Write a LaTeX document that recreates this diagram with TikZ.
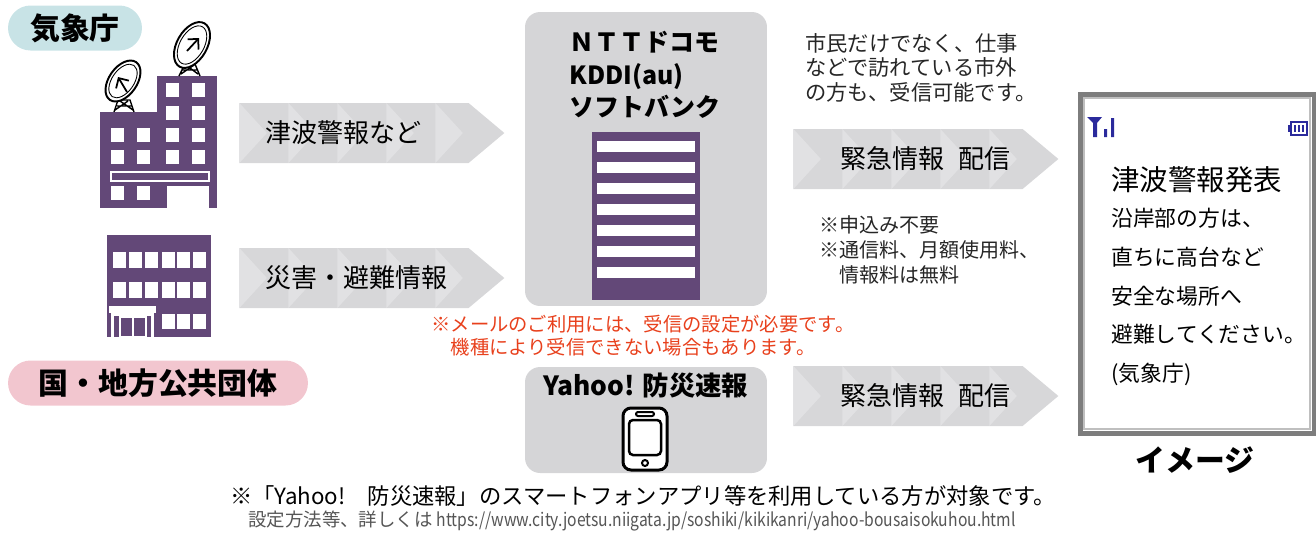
\documentclass[tikz,border=0pt]{standalone}
\usepackage{fontspec}
\usepackage{graphicx}
\setmainfont{Noto Sans CJK JP}
\usetikzlibrary{shapes.symbols, arrows.meta, positioning, calc}
\definecolor{bldpurple}{HTML}{634878}
\definecolor{boxgrey}{HTML}{D5D5D7}
\definecolor{bandgrey}{HTML}{D7D7D9}
\definecolor{bandlight}{HTML}{E1E1E3}
\definecolor{jmateal}{HTML}{C8E3E6}
\definecolor{govpink}{HTML}{F2C6CF}
\definecolor{notered}{HTML}{E8401C}
\definecolor{framegrey}{HTML}{7D7D7D}
\definecolor{iconblue}{HTML}{2B2A9C}
\definecolor{textgrey}{HTML}{555555}

\begin{document}
\begin{tikzpicture}[x=0.02cm, y=-0.02cm,
  pill/.style={rounded corners=0.45cm, minimum height=0.9cm, inner sep=0pt, font=\fontsize{17pt}{19pt}\selectfont\bfseries},
  greybox/.style={fill=boxgrey, rounded corners=0.3cm, inner sep=0pt, minimum width=4.84cm},
  band/.style={signal, signal to=east, signal pointer angle=80, fill=bandgrey, minimum width=5.3cm, minimum height=1.2cm, inner sep=0pt,
    path picture={\foreach \k in {0,...,4}
      \fill[bandlight] ([xshift=\k*0.98cm]path picture bounding box.north west) -- ++(0.55cm,-0.6cm) -- ++(-0.55cm,-0.6cm) -- cycle;}},
  bandtext/.style={anchor=west, inner sep=0pt, font=\fontsize{14.8pt}{16pt}\selectfont},
  note/.style={anchor=north west, inner sep=0pt, align=left},
  dish/.style={fill=white, draw=black, line width=1.1pt},
  win/.style={fill=white}
]
  \useasboundingbox (0,0) rectangle (1316,532);

  % Source labels
  \node[pill, fill=jmateal, minimum width=2.68cm] (jma) at (75,28) {気象庁};
  \node[pill, fill=govpink, minimum width=6cm] (gov) at (158,383) {国・地方公共団体};

  % Weather agency building
  \fill[bldpurple] (100,112) rectangle (157,208);
  \fill[bldpurple] (157,76) rectangle (217,208);
  \foreach \x in {166,192} \foreach \y in {83,106} \fill[win] (\x,\y) rectangle ++(13,14);
  \foreach \x in {111,137,166,192} \foreach \y in {128,150} \fill[win] (\x,\y) rectangle ++(13,14);
  \draw[white, line width=0.7pt] (111,172) rectangle (209,181);
  \foreach \x in {111,137} \fill[win] (\x,186) rectangle ++(13,14);
  \fill[win] (167,186) rectangle (209,208);

  % Dishes on the roof
  \draw[line width=0.8pt] (114,112) -- (118,100) -- (130,100) -- (134,112)
    (115,110) -- (128,101) (133,110) -- (120,101) (117,106) -- (131,106);
  \begin{scope}[shift={(123,81)}, rotate=55]
    \draw[dish] (0,0) ellipse [x radius=23, y radius=14];
    \draw[line width=0.5pt] (0,0) ellipse [x radius=19, y radius=11];
  \end{scope}
  \draw[line width=1pt, -{Straight Barb[length=1.5mm]}] (127,92) -- (118,77);
  \draw[line width=0.8pt] (179,76) -- (185,64) -- (195,64) -- (200,76)
    (181,74) -- (194,65) (198,74) -- (186,65) (182,70) -- (197,70);
  \begin{scope}[shift={(192,45)}, rotate=60]
    \draw[dish] (0,0) ellipse [x radius=25, y radius=15];
    \draw[line width=0.5pt] (0,0) ellipse [x radius=21, y radius=12];
  \end{scope}
  \draw[line width=1pt, -{Straight Barb[length=1.5mm]}] (187,51) -- (199,38);

  % Local government building
  \fill[bldpurple] (107,235) rectangle (211,337);
  \foreach \x in {113,129,145,162,177,193} \foreach \y in {252,282} \fill[win] (\x,\y) rectangle ++(13,16);
  \foreach \x in {162,177,193} \fill[win] (\x,314) rectangle ++(13,15);
  \fill[win] (109,306) rectangle (156,313);
  \fill[win] (111,313) rectangle (154,337);
  \fill[bldpurple] (114,316) rectangle (151,337);
  \draw[white, line width=0.9pt] (120,317) rectangle (133,337) (133,317) rectangle (146,337);

  % Information bands
  \node[band] (tsunami) at (354,133) {};
  \node[bandtext] (tsunamitext) at (265,133) {津波警報など};
  \node[band] (evac) at (354,278) {};
  \node[bandtext] (evactext) at (265,278) {災害・避難情報};
  \node[band] (alert) at (908,159) {};
  \node[bandtext] (alerttext) at (840,159) {緊急情報\hspace{0.55em}配信};
  \node[band] (alertb) at (908,396) {};
  \node[bandtext] (alertbtext) at (840,396) {緊急情報\hspace{0.55em}配信};

  % Carriers
  \node[greybox, minimum height=5.88cm] (carrier) at (646,159) {};
  \node[align=left, inner sep=0pt, font=\fontsize{14.2pt}{18.4pt}\selectfont\bfseries] (carriername) at (645,75)
    {ＮＴＴドコモ\\KDDI(au)\\ソフトバンク};
  \fill[bldpurple] (592,132) rectangle (700,300);
  \foreach \y in {141,162,...,267} \fill[win] (597,\y) rectangle ++(98,11);

  % Yahoo
  \node[greybox, minimum height=2.12cm] (yahoo) at (646,420) {};
  \node[inner sep=0pt, font=\fontsize{15pt}{17pt}\selectfont\bfseries] (yahooname) at (646,386) {Yahoo! 防災速報};
  \draw[fill=white, line width=0.06cm, rounded corners=0.16cm] (623,408) rectangle (667,470);
  \draw[line width=0.05cm, rounded corners=0.08cm] (629,420) rectangle (661,455);
  \draw[line width=0.04cm, rounded corners=0.04cm] (636,412) rectangle (654,416);
  \draw[line width=0.04cm] (645,463) circle [radius=3];

  % Notes
  \node[note, font=\fontsize{12.1pt}{13.9pt}\selectfont, text=black!85] (visitors) at (805,33)
    {市民だけでなく、仕事\\などで訪れている市外\\の方も、受信可能です。};
  \node[note, font=\fontsize{11.4pt}{14.2pt}\selectfont, text=black!85] (free) at (819,215)
    {※申込み不要\\※通信料、月額使用料、\\　情報料は無料};
  \node[note, font=\fontsize{11pt}{13pt}\selectfont, text=notered] (mailnote) at (431,315)
    {※メールのご利用には、受信の設定が必要です。\\　機種により受信できない場合もあります。};

  % Handset screen
  \fill[white] (1080,94) rectangle (1316,433);
  \draw[framegrey, line width=0.1cm] (1080,94) rectangle (1314,433);
  \draw[black!25, line width=0.03cm] (1084,98) rectangle (1310,429);
  \fill[iconblue] (1087,117) -- (1102,117) -- (1097,123) -- (1097,137) -- (1093,137) -- (1093,123) -- cycle;
  \fill[iconblue] (1104,129) rectangle (1107,137) (1111,118) rectangle (1114,137);
  \draw[iconblue, line width=0.9pt] (1291,122) rectangle (1307,135);
  \fill[iconblue] (1288,125) rectangle (1291,132);
  \foreach \x in {1294,1298,1302} \fill[iconblue] (\x,125) rectangle ++(2,7);
  \node[anchor=west, inner sep=0pt, font=\fontsize{16.2pt}{18pt}\selectfont] (headline) at (1111,180) {津波警報発表};
  \node[note, font=\fontsize{12.4pt}{22pt}\selectfont] (message) at (1111,208)
    {沿岸部の方は、\\直ちに高台など\\安全な場所へ\\避難してください。\\(気象庁)};
  \node[inner sep=0pt, font=\fontsize{17pt}{19pt}\selectfont\bfseries] (image) at (1195,460) {イメージ};

  % Footnotes
  \node[inner sep=0pt, font=\fontsize{12.7pt}{14pt}\selectfont] (target) at (643,496)
    {※「Yahoo!　防災速報」のスマートフォンアプリ等を利用している方が対象です。};
  \node[inner sep=0pt, font=\fontsize{10.5pt}{12pt}\selectfont, text=textgrey] (howto) at (632,521)
    {設定方法等、詳しくは \scalebox{0.85}[1]{https://www.city.joetsu.niigata.jp/soshiki/kikikanri/yahoo-bousaisokuhou.html}};
\end{tikzpicture}
\end{document}
